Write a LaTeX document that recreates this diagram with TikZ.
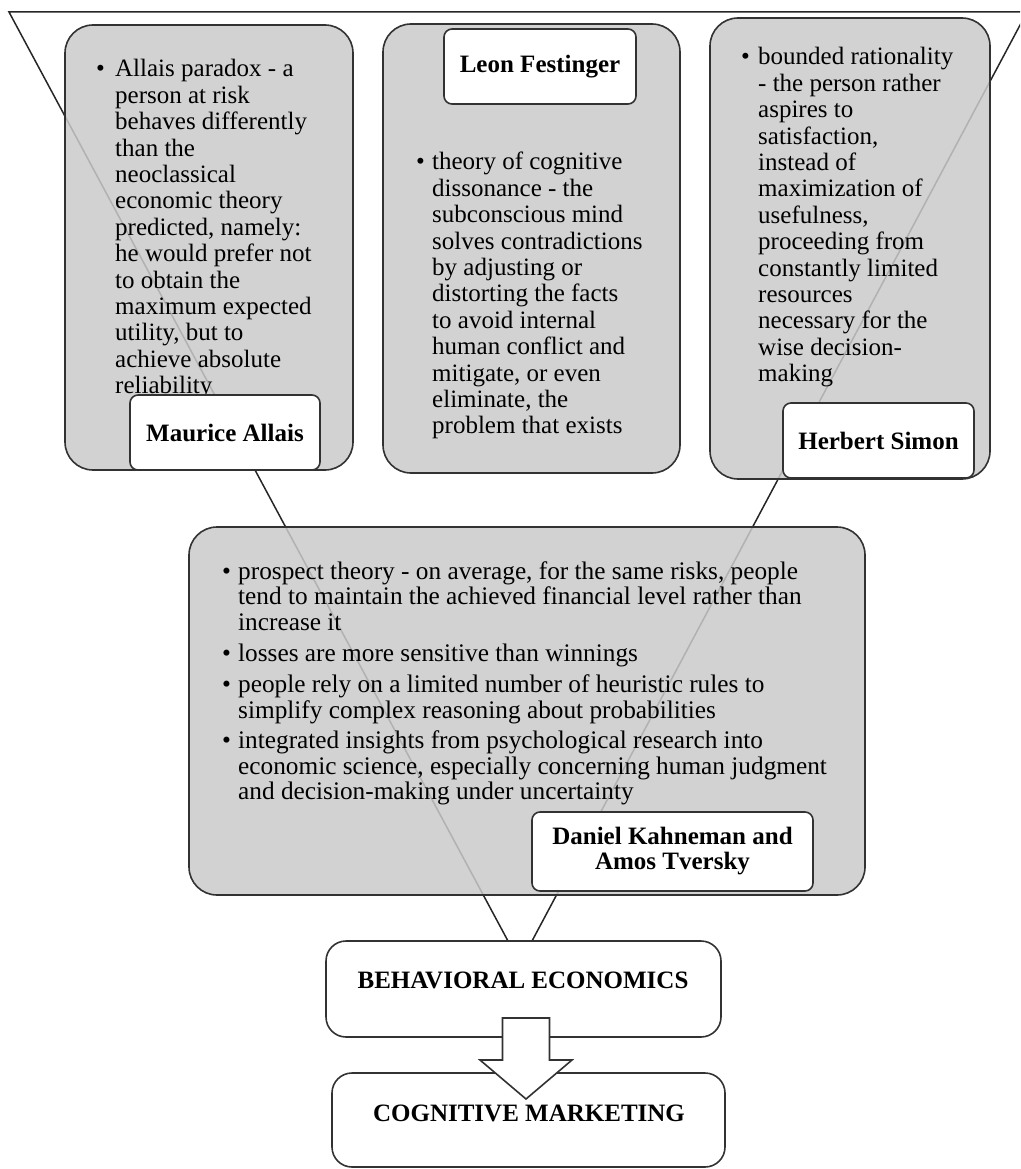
\documentclass[tikz,border=0pt]{standalone}
\usepackage{fontspec}
\setmainfont{Liberation Serif}
\definecolor{boxgray}{RGB}{202,202,202}
\definecolor{edgegray}{RGB}{50,50,50}
\newcommand{\bodyfont}{\fontsize{25}{26.4}\selectfont}
\newcommand{\namefont}{\fontsize{25}{25}\selectfont\bfseries}
\newcommand{\bl}[1]{\makebox[#1][l]{\textbullet}}
\begin{document}
\begin{tikzpicture}[x=1pt,y=-1pt,
  graybox/.style={draw=edgegray, line width=1.6pt, fill=boxgray, fill opacity=0.85,
    rounded corners=28pt, inner sep=0pt, outer sep=0pt},
  namebox/.style={draw=edgegray, line width=1.6pt, fill=white, rounded corners=8pt,
    inner sep=0pt, outer sep=0pt, align=center, font=\namefont},
  endbox/.style={draw=edgegray, line width=1.6pt, fill=white, rounded corners=20pt,
    inner sep=0pt, outer sep=0pt},
  bodytext/.style={anchor=base west, inner sep=0pt, font=\bodyfont, text=black},
  endtext/.style={inner sep=0pt, font=\namefont, text=black},
  funnel/.style={draw=black!85, line width=1.5pt, line join=miter},
  bigarrow/.style={draw=edgegray, line width=1.6pt, fill=white, line join=miter}]
\useasboundingbox (0,0) rectangle (1020,1169);
\clip (0,0) rectangle (1020,1169);

% funnel
\coordinate (ftl) at (9,12);
\coordinate (ftr) at (1027,12);
\coordinate (fbl) at (508,941);
\coordinate (fbr) at (532,941);
\draw[funnel] (fbl) -- (ftl) -- (ftr) -- (fbr);

% gray boxes
\node[graybox, minimum width=288pt, minimum height=445pt] (allais) at (209,247.5) {};
\node[graybox, minimum width=297pt, minimum height=449pt] (festinger) at (531.5,248.5) {};
\node[graybox, minimum width=280pt, minimum height=461pt] (simon) at (850,248.5) {};
\node[graybox, minimum width=676pt, minimum height=368pt] (kahneman) at (527,711) {};

% texts in gray boxes
\node[bodytext] (allaistext) at (96,77) {\begin{tabular}[t]{@{}l@{}l@{}}
\bl{19pt} & Allais paradox - a\\
 & person at risk\\
 & behaves differently\\
 & than the\\
 & neoclassical\\
 & economic theory\\
 & predicted, namely:\\
 & he would prefer not\\
 & to obtain the\\
 & maximum expected\\
 & utility, but to\\
 & achieve absolute\\
 & reliability
\end{tabular}};

\node[bodytext] (festingertext) at (416,170) {\begin{tabular}[t]{@{}l@{}l@{}}
\bl{16pt} & theory of cognitive\\
 & dissonance - the\\
 & subconscious mind\\
 & solves contradictions\\
 & by adjusting or\\
 & distorting the facts\\
 & to avoid internal\\
 & human conflict and\\
 & mitigate, or even\\
 & eliminate, the\\
 & problem that exists
\end{tabular}};

\node[bodytext] (simontext) at (741,65) {\begin{tabular}[t]{@{}l@{}l@{}}
\bl{17pt} & bounded rationality\\
 & - the person rather\\
 & aspires to\\
 & satisfaction,\\
 & instead of\\
 & maximization of\\
 & usefulness,\\
 & proceeding from\\
 & constantly limited\\
 & resources\\
 & necessary for the\\
 & wise decision-\\
 & making
\end{tabular}};

\node[bodytext, font=\fontsize{25.3}{25.6}\selectfont] (kahnemantext) at (222,579) {\begin{tabular}[t]{@{}l@{}l@{}}
\bl{16pt} & prospect theory - on average, for the same risks, people\\
 & tend to maintain the achieved financial level rather than\\
 & increase it\\[6pt]
\bl{16pt} & losses are more sensitive than winnings\\[5pt]
\bl{16pt} & people rely on a limited number of heuristic rules to\\
 & simplify complex reasoning about probabilities\\[5pt]
\bl{16pt} & integrated insights from psychological research into\\
 & economic science, especially concerning human judgment\\
 & and decision-making under uncertainty
\end{tabular}};

% name boxes
\node[namebox, minimum width=190pt, minimum height=75pt] (allaisname) at (225,432.5) {Maurice Allais};
\node[namebox, minimum width=192pt, minimum height=75pt] (festingername) at (540,66.5) {Leon Festinger};
\node[namebox, minimum width=191pt, minimum height=75pt] (simonname) at (878.5,440.5) {Herbert Simon};
\node[namebox, minimum width=281pt, minimum height=79pt] (kahnemanname) at (672.5,851.5) {Daniel Kahneman and\\Amos Tversky};

% bottom boxes
\node[endbox, minimum width=395pt, minimum height=96pt] (be) at (523.5,989) {};
\node[endtext] (betext) at (523,980) {BEHAVIORAL ECONOMICS};
\node[endbox, minimum width=393pt, minimum height=94pt] (cm) at (528.5,1120) {};
\node[endtext] (cmtext) at (529,1113) {COGNITIVE MARKETING};

% block arrow
\coordinate (arrtop) at (526,1018);
\coordinate (arrtip) at (526,1099);
\draw[bigarrow] ([xshift=-23.5pt]arrtop) -- ([xshift=23.5pt]arrtop)
  -- ([xshift=23.5pt,yshift=39pt]arrtip) -- ([xshift=46pt,yshift=39pt]arrtip)
  -- (arrtip) -- ([xshift=-46pt,yshift=39pt]arrtip)
  -- ([xshift=-23.5pt,yshift=39pt]arrtip) -- cycle;
\end{tikzpicture}
\end{document}
